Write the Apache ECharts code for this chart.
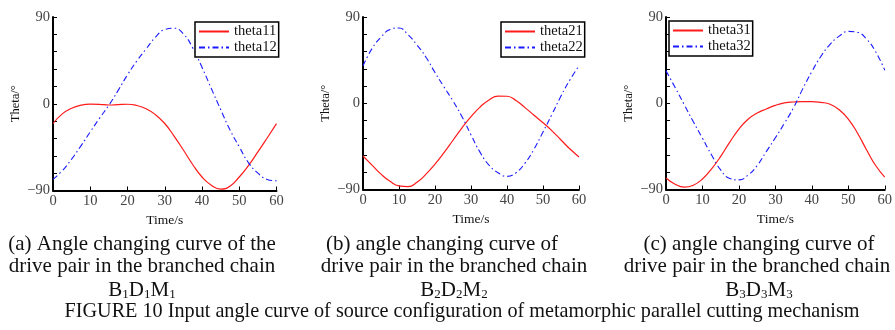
<!DOCTYPE html>
<html>
<head>
<meta charset="utf-8">
<script src="https://cdn.jsdelivr.net/npm/echarts@6/dist/echarts.min.js"></script>
<style>
html,body{margin:0;padding:0;background:#fff;}
#c{width:895px;height:330px;}
</style>
</head>
<body>
<div id="c"></div>
<script>
const time = [0,2.5,5,7.5,10,12.5,15,17.5,20,22.5,25,27.5,30,32.5,35,37.5,40,42.5,45,47.5,50,52.5,55,57.5,60];
const theta11 = [-20.5,-10.5,-4.7,-1.5,-0.4,-0.6,-1.3,-0.9,-0.5,-1.8,-5.2,-11.3,-20.5,-33.5,-48,-63,-76,-84.5,-88.5,-85.5,-76,-64,-50,-35.5,-20.7];
const theta12 = [-78.5,-69.4,-57.4,-43.7,-29.2,-15,-1.5,13.9,30,44.4,56.9,69,77,78.4,72.5,58,37.8,15.8,-6,-27,-44.7,-61.3,-72,-78.5,-80];
const theta21 = [-55,-64.5,-74,-81.5,-86.3,-87,-82.5,-74,-63.5,-51.5,-38.6,-25.7,-14,-4,3.5,7.5,7.3,2.8,-4.6,-12.5,-20.3,-28.8,-38.3,-47.8,-56];
const theta22 = [39,57,69,77,78.5,71.5,60.8,48,32,17,2.4,-14,-33,-51,-64.5,-72.5,-76.3,-72.5,-62.5,-48,-30,-11.5,7.5,24.5,39];
const theta31 = [-78,-84.5,-87.5,-85.5,-79,-68.5,-55.5,-40.5,-27,-16.7,-10.2,-6,-2.2,0.3,1.3,1.7,1.7,0.9,-1,-6.8,-16.5,-31,-48.5,-65,-77];
const theta32 = [33.8,16.5,-1.5,-19.3,-36.5,-54,-69.5,-78.5,-80,-75,-65,-50.5,-36,-20.8,-4.5,15,33,49,61.5,70,75,74,67,53.8,34.5];

const seriesNames = [['theta11','theta12'],['theta21','theta22'],['theta31','theta32']];
const seriesData = [[theta11, theta12],[theta21, theta22],[theta31, theta32]];
const yLabeled = [-90, 0, 90];
const yTickText = {'-90':'\u221290','0':'0','90':'90'};
const xAxisTitle = 'Time/s';
const yAxisTitle = 'Theta/\u00b0';
const captions = [
  ['(a) Angle changing curve of the', 'drive pair in the branched chain', ['B','1','D','1','M','1']],
  ['(b) angle changing curve of', 'drive pair in the branched chain', ['B','2','D','2','M','2']],
  ['(c) angle changing curve of', 'drive pair in the branched chain', ['B','3','D','3','M','3']]
];
const figureCaption = 'FIGURE 10 Input angle curve of source configuration of metamorphic parallel cutting mechanism';

const FONT = '"Liberation Serif","Times New Roman",serif';
const grids = [
  {left: 53, top: 17, width: 223.5, height: 173.5},
  {left: 363, top: 17, width: 216, height: 172.5},
  {left: 666, top: 17, width: 221.5, height: 172.5}
];
const legendPos = [{left:195, top:22},{left:501, top:22},{left:669, top:21}];
const capCenters = [[142,142,142],[442,454,454],[759,757,759]];

const option = {
  animation: false,
  backgroundColor: '#fff',
  grid: grids,
  xAxis: grids.map((g,i)=>({
    type:'value', gridIndex:i, min:0, max:60, interval:10,
    name: xAxisTitle, nameLocation:'middle', nameGap: 23,
    nameTextStyle:{fontFamily:FONT, fontSize:13.5, color:'#111'},
    axisLine:{show:true, onZero:false, lineStyle:{color:'#000', width:2}},
    axisTick:{show:true, inside:true, length:4, lineStyle:{color:'#000', width:1}},
    axisLabel:{fontFamily:FONT, fontSize:14.5, color:'#444', margin:3},
    splitLine:{show:false}
  })),
  yAxis: grids.map((g,i)=>({
    type:'value', gridIndex:i, min:-90, max:90, interval:18,
    name: yAxisTitle, nameLocation:'middle', nameGap: 31, nameRotate: 90,
    nameTextStyle:{fontFamily:FONT, fontSize:12.5, color:'#111'},
    axisLine:{show:true, onZero:false, lineStyle:{color:'#000', width:2}},
    axisTick:{show:true, inside:true, length:4, lineStyle:{color:'#000', width:1}},
    axisLabel:{fontFamily:FONT, fontSize:14.5, color:'#444', margin:3,
      formatter: v => yLabeled.indexOf(v) >= 0 ? yTickText[String(v)] : ''},
    splitLine:{show:false}
  })),
  legend: grids.map((g,i)=>({
    data: seriesNames[i],
    left: legendPos[i].left, top: legendPos[i].top,
    orient:'vertical',
    backgroundColor:'#fff', borderColor:'#000', borderWidth:1.5, borderRadius:0,
    padding:[2,2,2,3], itemGap:1, itemWidth:30, itemHeight:13,
    itemStyle:{opacity:0},
    textStyle:{fontFamily:FONT, fontSize:14.5, color:'#111', lineHeight:14}
  })),
  series: [],
  graphic: []
};

for (let i=0;i<3;i++){
  for (let k=0;k<2;k++){
    const vals = seriesData[i][k];
    option.series.push({
      type:'line', name: seriesNames[i][k], xAxisIndex:i, yAxisIndex:i,
      data: time.map((t,j)=>[t, vals[j]]),
      smooth: 0.5, symbol:'none', showSymbol:false,
      lineStyle: k===0 ? {color:'#ff1a1a', width:1.2, type:'solid'}
                       : {color:'#1a1aff', width:1.1, type:[6,3,1.5,3]},
      itemStyle: {color: k===0 ? '#ff1a1a' : '#1a1aff'}
    });
  }
  const c = captions[i];
  option.graphic.push({type:'text', x: capCenters[i][0], y: 244,
    style:{text:c[0], font:'21px '+FONT, fill:'#111', textAlign:'center', textVerticalAlign:'middle'}});
  option.graphic.push({type:'text', x: capCenters[i][1], y: 266.5,
    style:{text:c[1], font:'21px '+FONT, fill:'#111', textAlign:'center', textVerticalAlign:'middle'}});
  const sub = c[2];
  let rt = '';
  for (let j=0;j<sub.length;j+=2){ rt += '{n|'+sub[j]+'}{s|'+sub[j+1]+'}'; }
  option.graphic.push({type:'text', x: capCenters[i][2], y: 289,
    style:{text: rt, textAlign:'center', textVerticalAlign:'middle', fill:'#111',
      rich:{ n:{fontFamily:FONT, fontSize:21, lineHeight:24, verticalAlign:'bottom', fill:'#111'},
             s:{fontFamily:FONT, fontSize:13, lineHeight:12, verticalAlign:'bottom', fill:'#111'} }}});
}
option.graphic.push({type:'text', x: 462, y: 311.5,
  style:{text: figureCaption, font:'20.2px '+FONT, fill:'#111', textAlign:'center', textVerticalAlign:'middle'}});

const chart = echarts.init(document.getElementById('c'), null, {renderer:'canvas'});
chart.setOption(option);
</script>
</body>
</html>
